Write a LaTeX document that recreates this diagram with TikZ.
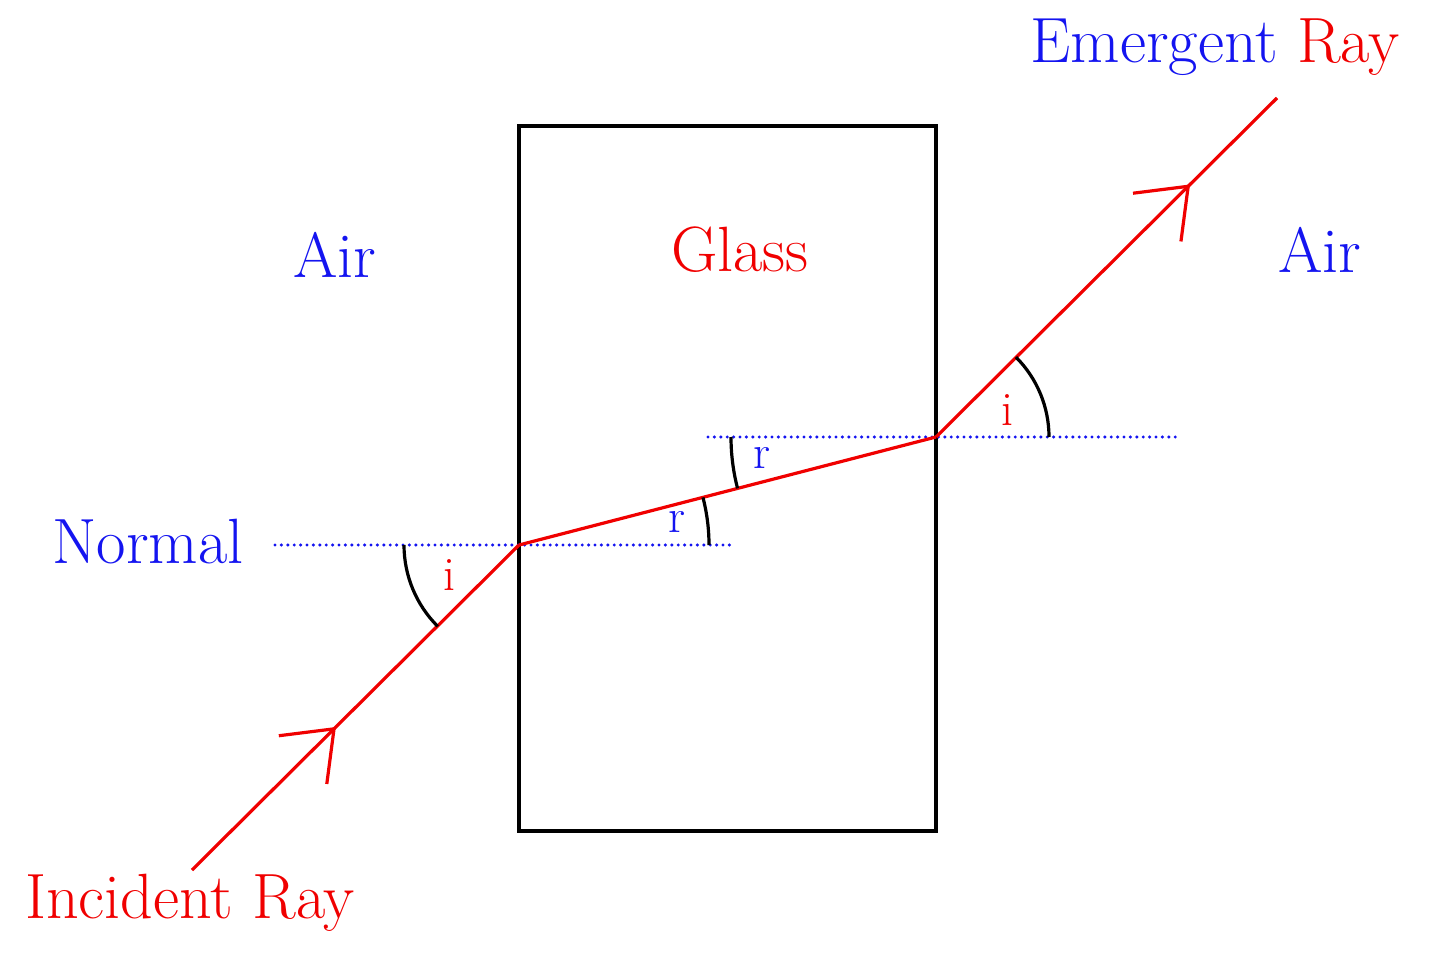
\documentclass[tikz,border=0pt]{standalone}
\usetikzlibrary{arrows.meta,decorations.markings}
\definecolor{myred}{RGB}{240,0,0}
\definecolor{myblue}{RGB}{20,20,240}
\begin{document}
\begin{tikzpicture}[x=0.5pt,y=-0.5pt,
  ray/.style={myred,line width=1.6pt},
  normalline/.style={myblue,line width=1.7pt,line cap=round,dash pattern=on 0pt off 3.2pt},
  anglearc/.style={black,line width=1.6pt},
  lbl/.style={font=\fontsize{32}{36}\selectfont,inner sep=0pt},
  small/.style={font=\fontsize{24}{26}\selectfont,inner sep=0pt},
  midarrow/.style={postaction={decorate},decoration={markings,mark=at position #1 with {\arrow{Straight Barb[length=22pt,width=34pt,line width=1.6pt]}}}}]
\useasboundingbox (0,0) rectangle (1440,957);
\draw[line width=1.6pt] (519,126) rectangle (936,831);
\coordinate (A) at (192,870);
\coordinate (P) at (519,545);
\coordinate (Q) at (936,437);
\coordinate (B) at (1277,98);
\draw[normalline] (275,545) -- (732,545);
\draw[normalline] (708,437) -- (1180,437);
\draw[ray,midarrow=0.44] (A) -- (P);
\draw[ray] (P) -- (Q);
\draw[ray,midarrow=0.745] (Q) -- (B);
\draw[anglearc] (404,545) arc[start angle=180,end angle=135,radius=115];
\draw[anglearc] (709,545) arc[start angle=0,end angle=-14.5,radius=190];
\draw[anglearc] (731,437) arc[start angle=180,end angle=165.5,radius=205];
\draw[anglearc] (1049,437) arc[start angle=0,end angle=-45,radius=113];
\node[small,myred] (i1) at (449,575) {i};
\node[small,myblue] (r1) at (677,522) {r};
\node[small,myblue] (r2) at (762,458) {r};
\node[small,myred] (i2) at (1007,410) {i};
\node[lbl,myblue] (air1) at (335,255) {Air};
\node[lbl,myred] (glass) at (740,250) {Glass};
\node[lbl,myblue] (air2) at (1320,250) {Air};
\node[lbl,myblue] (normal) at (148,542) {Normal};
\node[lbl,myred] (inc) at (190,903) {Incident Ray};
\node[lbl] (em) at (1215,47) {\textcolor{myblue}{Emergent} \textcolor{myred}{Ray}};
\end{tikzpicture}
\end{document}
